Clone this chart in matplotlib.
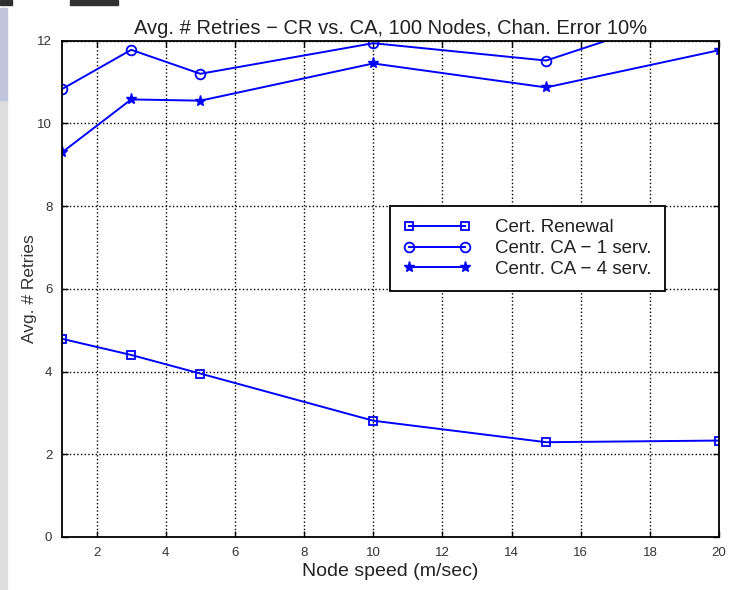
import matplotlib
matplotlib.use("Agg")
import matplotlib.pyplot as plt
from matplotlib.patches import Rectangle

plt.rcParams['font.family'] = ['Liberation Sans', 'DejaVu Sans']

speed = [1, 3, 5, 10, 15, 20]
cert_renewal = [4.79, 4.40, 3.95, 2.81, 2.29, 2.33]
ca_1_serv = [10.83, 11.78, 11.20, 11.94, 11.52, 12.90]
ca_4_serv = [9.30, 10.58, 10.55, 11.45, 10.87, 11.77]

labels = ["Cert. Renewal", "Centr. CA \u2212 1 serv.", "Centr. CA \u2212 4 serv."]

fig = plt.figure(figsize=(7.3, 5.9), dpi=100)

# slide decorations around the chart
fig.patches.append(Rectangle((0, 0), 0.009, 0.83, transform=fig.transFigure,
                             color="#dedede", zorder=0))
fig.patches.append(Rectangle((0, 0.83), 0.009, 0.157, transform=fig.transFigure,
                             color="#c0c4dc", zorder=0))
fig.patches.append(Rectangle((0, 0.992), 0.016, 0.008, transform=fig.transFigure,
                             color="#303030", zorder=0))
fig.patches.append(Rectangle((0.096, 0.992), 0.065, 0.008, transform=fig.transFigure,
                             color="#303030", zorder=0))

ax = fig.add_axes([0.085, 0.09, 0.900, 0.841])

blue = (0, 0, 1)
ax.plot(speed, cert_renewal, color=blue, lw=1.4, marker='s', ms=6,
        mfc='none', mec=blue, mew=1.3, label=labels[0])
ax.plot(speed, ca_1_serv, color=blue, lw=1.4, marker='o', ms=7,
        mfc='none', mec=blue, mew=1.3, label=labels[1])
ax.plot(speed, ca_4_serv, color=blue, lw=1.4, marker='*', ms=8,
        mfc=blue, mec=blue, mew=1.0, label=labels[2])

ax.set_xlim(1, 20)
ax.set_ylim(0, 12)
ax.set_xticks(range(2, 21, 2))
ax.set_yticks(range(0, 13, 2))
ax.grid(True, linestyle=':', color='black', linewidth=1.0)
ax.tick_params(direction='in', top=True, right=True, labelsize=9.5,
               length=4, width=1.0, colors='black', labelcolor='#333333')
ax.tick_params(axis='x', pad=7)
ax.tick_params(axis='y', pad=7)
for s in ax.spines.values():
    s.set_linewidth(1.3)

ax.set_title("Avg. # Retries \u2212 CR vs. CA, 100 Nodes, Chan. Error 10%",
             fontsize=14.5, color='#222222', pad=5)
ax.set_xlabel("Node speed (m/sec)", fontsize=14, color='#222222', labelpad=3)
ax.set_ylabel("Avg. # Retries", fontsize=12.5, color='#333333', labelpad=0)

leg = ax.legend(loc='upper left', bbox_to_anchor=(0.499, 0.667), numpoints=2,
                fontsize=13.5, frameon=True, fancybox=False, edgecolor='black',
                handlelength=3.6, handletextpad=1.3, borderpad=0.7,
                labelspacing=0.2, borderaxespad=0)
leg.get_frame().set_linewidth(1.3)
leg.get_frame().set_alpha(1)
for t in leg.get_texts():
    t.set_color('#222222')

fig.savefig("out.png", dpi=100)
